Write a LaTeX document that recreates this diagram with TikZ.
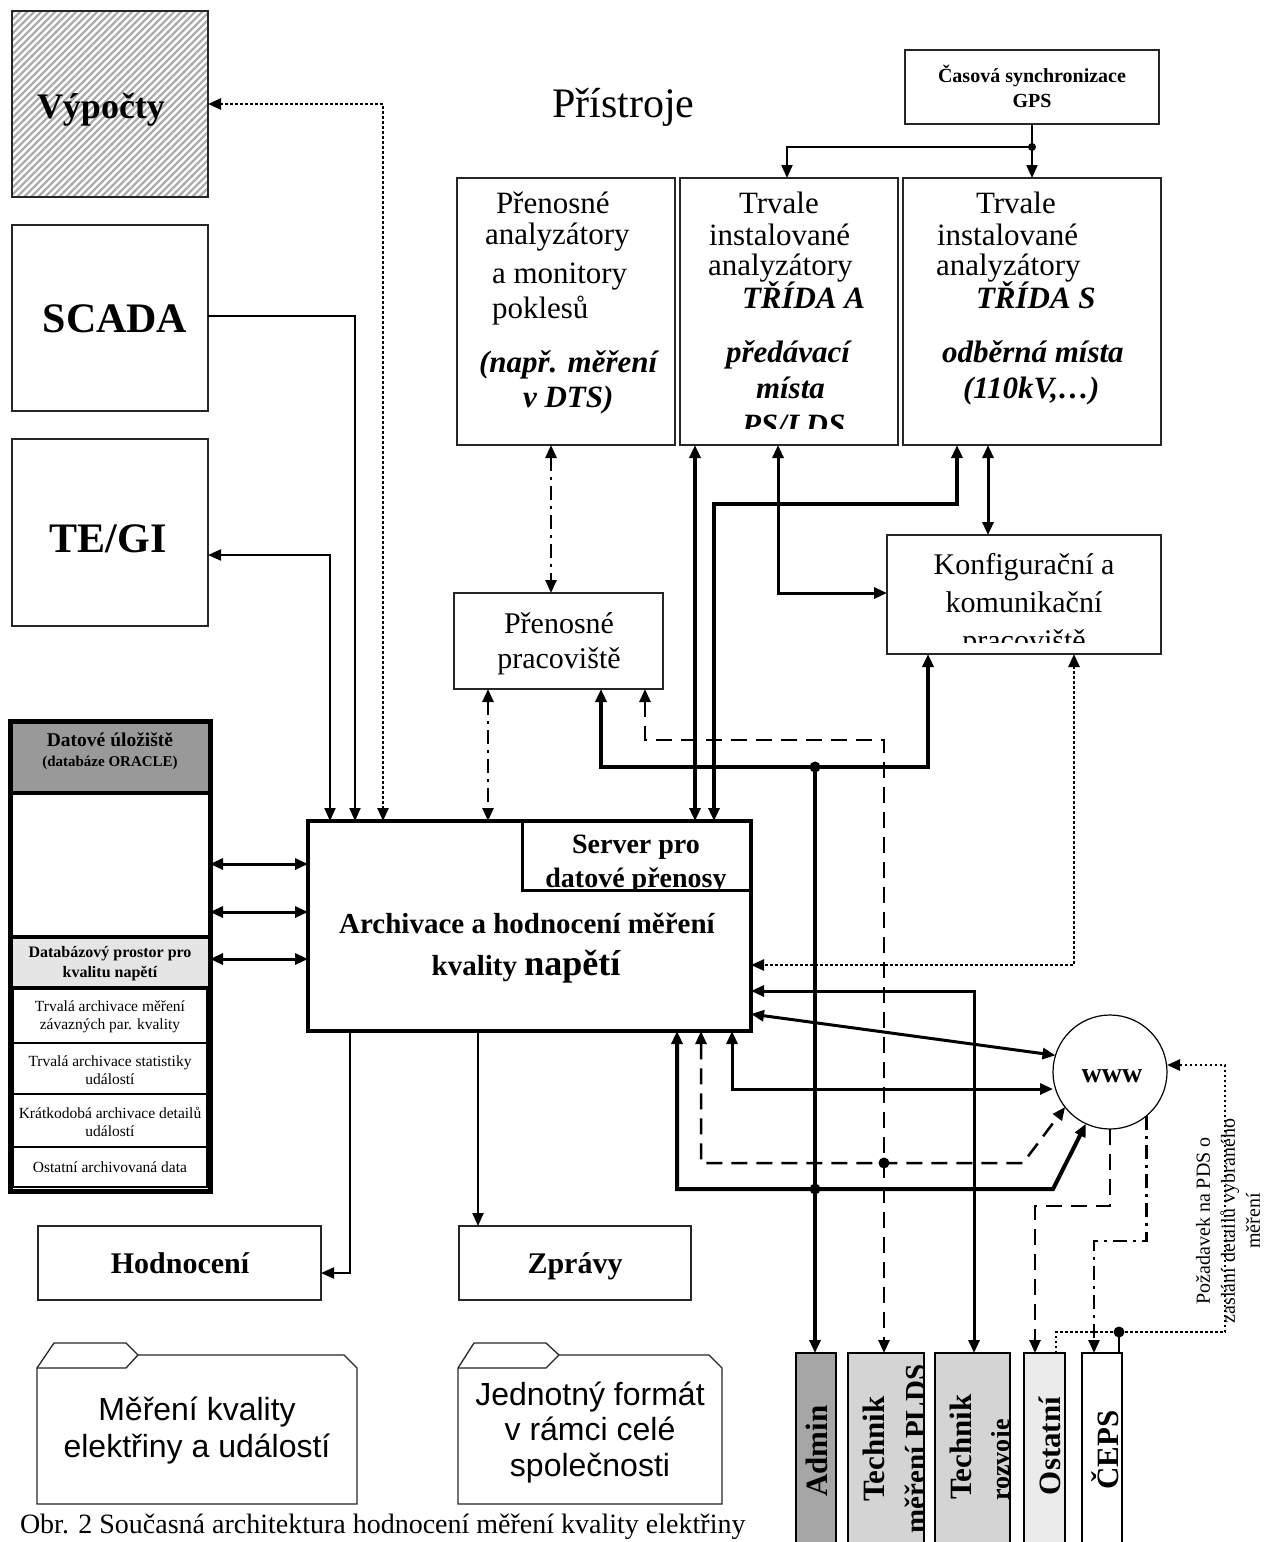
\documentclass[tikz,border=0pt]{standalone}
\usepackage{fontspec}
\setmainfont{Liberation Serif}
\setsansfont{Liberation Sans}
\usetikzlibrary{arrows.meta,calc}
\newcommand\fsz[1]{\fontsize{#1}{#1}\selectfont}
\begin{document}
\begin{tikzpicture}[x=1pt,y=-1pt,
  >={Triangle[length=13pt,width=11pt]},
  every node/.style={inner sep=0pt, outer sep=0pt},
  box/.style={draw=black!85, line width=1.5pt, fill=white},
  ln/.style={line width=2pt},
  mln/.style={line width=3pt},
  tln/.style={line width=4pt},
  dsh/.style={line width=2.5pt, dash pattern=on 16pt off 9pt},
  dshdot/.style={line width=2.5pt, dash pattern=on 14pt off 6pt on 3pt off 6pt},
  dots/.style={line width=2.5pt, dash pattern=on 2.5pt off 2.5pt},
  txt/.style={font=\fsz{31}, anchor=base west},
  btxt/.style={font=\bfseries\itshape\fsz{31}, anchor=base west},
  rot/.style={rotate=90, font=\bfseries\fsz{31}},
  folder/.style={draw=black!85, line width=1.3pt, fill=white},
]
\useasboundingbox (0,0) rectangle (1266,1542);

% ---------- Výpočty (hatched)
\begin{scope}
  \clip (12,11) rectangle (208,197);
  \foreach \i in {-200,-193,...,220} \draw[black!32, line width=2.3pt] (\i,197) -- ++(186,-186);
\end{scope}
\node[draw=black!85, line width=1.5pt, minimum width=196pt, minimum height=186pt] (vyp) at (110,104) {};
\node[font=\bfseries\fsz{36}, anchor=base] (vypt) at (101,118) {Výpočty};

% ---------- SCADA, TE/GI
\node[box, minimum width=196pt, minimum height=186pt] (scada) at (110,318) {};
\node[font=\bfseries\fsz{42}, anchor=base] (scadat) at (115,332) {SCADA};
\node[box, minimum width=196pt, minimum height=187pt] (tegi) at (110,532.5) {};
\node[font=\bfseries\fsz{42}, anchor=base] (tegit) at (108,552) {TE/GI};

% ---------- Přístroje, GPS
\node[font=\fsz{42}, anchor=base west] (pristroje) at (552,117) {Přístroje};
\node[box, line width=2pt, minimum width=254pt, minimum height=74pt] (gps) at (1032,87) {};
\node[font=\bfseries\fsz{20}, anchor=base] (gpst1) at (1032,82) {Časová synchronizace};
\node[font=\bfseries\fsz{20}, anchor=base] (gpst2) at (1032,107) {GPS};

% ---------- instrument boxes
\node[box, minimum width=218pt, minimum height=267pt] (inst1) at (566,311.5) {};
\node[box, minimum width=218pt, minimum height=267pt] (inst2) at (789,311.5) {};
\node[box, minimum width=258pt, minimum height=267pt] (inst3) at (1032,311.5) {};

\node[txt] (i1a) at (496,213) {Přenosné};
\node[txt] (i1b) at (485,244) {analyzátory};
\node[txt] (i1c) at (492,283) {a monitory};
\node[txt] (i1d) at (492,318) {poklesů};
\node[btxt] (i1e) at (479,372) {(např. měření};
\node[btxt] (i1f) at (523,407) {v DTS)};

\begin{scope}
  \clip (680,178) rectangle (898,428);
  \node[txt] (i2a) at (739,213) {Trvale};
  \node[txt] (i2b) at (709,245) {instalované};
  \node[txt] (i2c) at (708,275) {analyzátory};
  \node[btxt] (i2d) at (742,308) {TŘÍDA A};
  \node[btxt] (i2e) at (726,362) {předávací};
  \node[btxt] (i2f) at (756,398) {místa};
  \node[btxt] (i2g) at (742,435) {PS/LDS};
\end{scope}

\node[txt] (i3a) at (976,213) {Trvale};
\node[txt] (i3b) at (937,245) {instalované};
\node[txt] (i3c) at (936,275) {analyzátory};
\node[btxt] (i3d) at (976,308) {TŘÍDA S};
\node[btxt] (i3e) at (942,362) {odběrná místa};
\node[btxt] (i3f) at (963,398) {(110kV,…)};

% ---------- Přenosné pracoviště, Konfigurační
\node[box, line width=2pt, minimum width=209pt, minimum height=96pt] (ppr) at (558.5,641) {};
\node[font=\fsz{30}, anchor=base] (ppra) at (559,633) {Přenosné};
\node[font=\fsz{30}, anchor=base] (pprb) at (559,668) {pracoviště};

\node[box, line width=2pt, minimum width=274pt, minimum height=119pt] (konf) at (1024,594.5) {};
\begin{scope}
  \clip (887,535) rectangle (1161,642);
  \node[font=\fsz{30}, anchor=base] (konfa) at (1024,574) {Konfigurační a};
  \node[font=\fsz{30}, anchor=base] (konfb) at (1024,612) {komunikační};
  \node[font=\fsz{30}, anchor=base] (konfc) at (1024,650) {pracoviště};
\end{scope}

% ---------- Datové úložiště
\fill[black!40] (10,721) rectangle (210,793);
\fill[black!10] (10,937) rectangle (210,988);
\draw[line width=2pt] (13,988) rectangle (207,1187);
\draw[line width=2pt] (13,1043) -- (207,1043) (13,1094) -- (207,1094) (13,1147) -- (207,1147);
\draw[line width=4pt] (10,793) -- (210,793) (10,937) -- (210,937) (10,988) -- (210,988);
\node[draw, line width=5pt, minimum width=200pt, minimum height=470pt] (dat) at (110,956) {};
\node[font=\bfseries\fsz{19.5}] (datt1) at (110,740) {Datové úložiště};
\node[font=\bfseries\fsz{15}] (datt2) at (110,763) {(databáze ORACLE)};
\node[font=\bfseries\fontsize{16}{20}\selectfont, align=center] (datt3) at (110,964) {Databázový prostor pro\\kvalitu napětí};
\node[font=\fontsize{15.5}{18.5}\selectfont, align=center] (row1) at (110,1017) {Trvalá archivace měření\\závazných par. kvality};
\node[font=\fontsize{15.5}{18.5}\selectfont, align=center] (row2) at (110,1070) {Trvalá archivace statistiky\\událostí};
\node[font=\fontsize{15.5}{18.5}\selectfont, align=center] (row3) at (110,1122) {Krátkodobá archivace detailů\\událostí};
\node[font=\fsz{15.5}] (row4) at (110,1167) {Ostatní archivovaná data};

% ---------- Archivace
\node[draw, line width=4pt, fill=white, minimum width=443pt, minimum height=210pt] (arch) at (529.5,926) {};
\node[draw, line width=3pt, minimum width=229pt, minimum height=69pt] (srv) at (636.5,855.5) {};
\begin{scope}
  \clip (524,823) rectangle (749,888);
  \node[font=\bfseries\fsz{28}, anchor=base] (srvt1) at (636,853) {Server pro};
  \node[font=\bfseries\fsz{28}, anchor=base] (srvt2) at (636,887) {datové přenosy};
\end{scope}
\node[font=\bfseries\fsz{29}, anchor=base] (archt1) at (527,933) {Archivace a hodnocení měření};
\node[font=\bfseries\fsz{29}, anchor=base] (archt2) at (526,975) {kvality \fsz{36}napětí};

% ---------- Hodnocení, Zprávy
\node[box, line width=1.3pt, minimum width=283pt, minimum height=74pt] (hod) at (179.5,1263) {};
\node[font=\bfseries\fsz{30}, anchor=base] (hodt) at (180,1273) {Hodnocení};
\node[box, line width=1.3pt, minimum width=232pt, minimum height=74pt] (zpr) at (575,1263) {};
\node[font=\bfseries\fsz{30}, anchor=base] (zprt) at (575,1273) {Zprávy};

% ---------- folders
\draw[folder] (37,1504) -- (37,1368) -- (54,1343) -- (126,1343) -- (138,1355) -- (344,1355) -- (357,1368) -- (357,1504) -- cycle;
\draw[line width=1.3pt, draw=black!85] (37,1368) -- (126,1368) -- (138,1355);
\node[font=\sffamily\fsz{32}, anchor=base] (f1a) at (197,1420) {Měření kvality};
\node[font=\sffamily\fsz{32}, anchor=base] (f1b) at (197,1457) {elektřiny a událostí};
\draw[folder] (458,1504) -- (458,1368) -- (474,1343) -- (546,1343) -- (559,1355) -- (709,1355) -- (722,1368) -- (722,1504) -- cycle;
\draw[line width=1.3pt, draw=black!85] (458,1368) -- (546,1368) -- (559,1355);
\node[font=\sffamily\fsz{32}, anchor=base] (f2a) at (590,1405) {Jednotný formát};
\node[font=\sffamily\fsz{32}, anchor=base] (f2b) at (590,1440) {v rámci celé};
\node[font=\sffamily\fsz{32}, anchor=base] (f2c) at (590,1476) {společnosti};

% ---------- www
\node[circle, draw, line width=1.2pt, fill=white, minimum size=114pt] (www) at (1110,1072) {};
\node[font=\bfseries\fsz{28}, anchor=base] (wwwt) at (1112,1082) {www};

% ---------- bottom role boxes
\node[draw, line width=2.5pt, fill=black!35, minimum width=40pt, minimum height=247pt] (admin) at (816,1476.5) {};
\node[draw, line width=2.5pt, fill=black!17, minimum width=76pt, minimum height=247pt] (plds) at (886,1476.5) {};
\node[draw, line width=2.5pt, fill=black!17, minimum width=75pt, minimum height=247pt] (rozv) at (972.5,1476.5) {};
\node[draw, line width=2.5pt, fill=black!8, minimum width=41pt, minimum height=247pt] (ost) at (1044.5,1476.5) {};
\node[draw, line width=2.5pt, fill=white, minimum width=40pt, minimum height=247pt] (ceps) at (1102,1476.5) {};
\node[rot] (admint) at (817,1451) {Admin};
\begin{scope}
  \clip (849,1354) rectangle (923,1600);
  \node[rot] (pldst1) at (874,1449) {Technik};
  \node[rot, font=\bfseries\fsz{29}] (pldst2) at (915,1449) {měření PLDS};
\end{scope}
\begin{scope}
  \clip (936,1354) rectangle (1009,1600);
  \node[rot] (rozvt1) at (961,1447) {Technik};
  \node[rot, font=\bfseries\fsz{26}] (rozvt2) at (1003,1460) {rozvoje};
\end{scope}
\node[rot] (ostt) at (1050,1446) {Ostatní};
\node[rot] (cepst) at (1105,1450) {ČEPS};

% rotated request text
\node[rotate=90, font=\fontsize{20}{25}\selectfont, align=center] (req) at (1228,1221) {Požadavek na PDS o\\zaslání detailů vybraného\\měření};

% caption
\node[font=\fsz{28}, anchor=base west] (cap) at (20,1533) {Obr. 2 Současná architektura hodnocení měření kvality elektřiny};

% ================= connectors
% GPS
\coordinate (gj) at (1032,147);
\draw[ln,->] (gps.south) -- (inst3.north);
\draw[ln,->] (gj) -- (787,147) -- (787,0 |- inst2.north);
\fill (gj) circle (4pt);

% Výpočty, SCADA, TE/GI
\draw[dots,<->] (vyp.east) -- (383,104) -- (383,0 |- arch.north);
\draw[ln,->] (scada.east |- 0,316) -- (355,316) -- (355,0 |- arch.north);
\draw[ln,<->] (tegi.east |- 0,555) -- (330,555) -- (330,0 |- arch.north);

% datové <-> archivace
\draw[mln,<->] (dat.east |- 0,864) -- (arch.west |- 0,864);
\draw[mln,<->] (dat.east |- 0,912) -- (arch.west |- 0,912);
\draw[mln,<->] (dat.east |- 0,959) -- (arch.west |- 0,959);

% instruments
\draw[dshdot,<->] (551,0 |- inst1.south) -- (551,0 |- ppr.north);
\draw[dshdot,<->] (488,0 |- ppr.south) -- (488,0 |- arch.north);
\draw[tln,<->] (695,0 |- inst2.south) -- (695,0 |- arch.north);
\draw[tln,<->] (957,0 |- inst3.south) -- (957,504) -- (714,504) -- (714,0 |- arch.north);
\draw[mln,<->] (778,0 |- inst2.south) -- (778,593) -- (konf.west |- 0,593);
\draw[mln,<->] (988,0 |- inst3.south) -- (988,0 |- konf.north);

% přenosné pracoviště / konfigurační
\coordinate (j1) at (815,767);
\draw[tln,<->] (601,0 |- ppr.south) -- (601,767) -- (928,767) -- (928,0 |- konf.south);
\draw[tln,->] (j1) -- (815,0 |- admin.north);
\fill (j1) circle (5.5pt);
\draw[dsh,<->] (645,0 |- ppr.south) -- (645,740) -- (884,740) -- (884,0 |- plds.north);
\draw[dots,<->] (1074,0 |- konf.south) -- (1074,965) -- (arch.east |- 0,965);

% archivace right / bottom
\draw[mln,<->] (arch.east |- 0,991) -- (974,991) -- (974,0 |- rozv.north);
\draw[mln,<->] (arch.east |- 0,1014) -- (www.163);
\draw[mln,<->] (732,0 |- arch.south) -- (732,1089) -- (www.west |- 0,1089);
\coordinate (j2) at (884,1163);
\draw[dsh,<->] (701,0 |- arch.south) -- (701,1163) -- (1023,1163) -- (www.218);
\fill (j2) circle (5.5pt);
\coordinate (j3) at (815,1189);
\draw[tln,<->] (677,0 |- arch.south) -- (677,1189) -- (1053,1189) -- (www.245);
\fill (j3) circle (5.5pt);

% www to roles
\draw[dsh,->] (www.south) -- (1110,1206) -- (1035,1206) -- (1035,0 |- ost.north);
\draw[dshdot,->] (www.-50) -- (www.-50 |- 0,1241) -- (1094,1241) -- (1094,0 |- ceps.north);
\coordinate (j4) at (1119,1332);
\draw[dots,->] (1056,0 |- ost.north) -- (1056,1332) -- (1225,1332) -- (1225,1065) -- (www.east |- 0,1065);
\draw[ln] (j4) -- (1119,0 |- ceps.north);
\fill (j4) circle (5.5pt);

% Hodnocení, Zprávy
\draw[ln,->] (350,0 |- arch.south) -- (350,1273) -- (hod.east |- 0,1273);
\draw[ln,->] (478,0 |- arch.south) -- (478,0 |- zpr.north);
\end{tikzpicture}
\end{document}
